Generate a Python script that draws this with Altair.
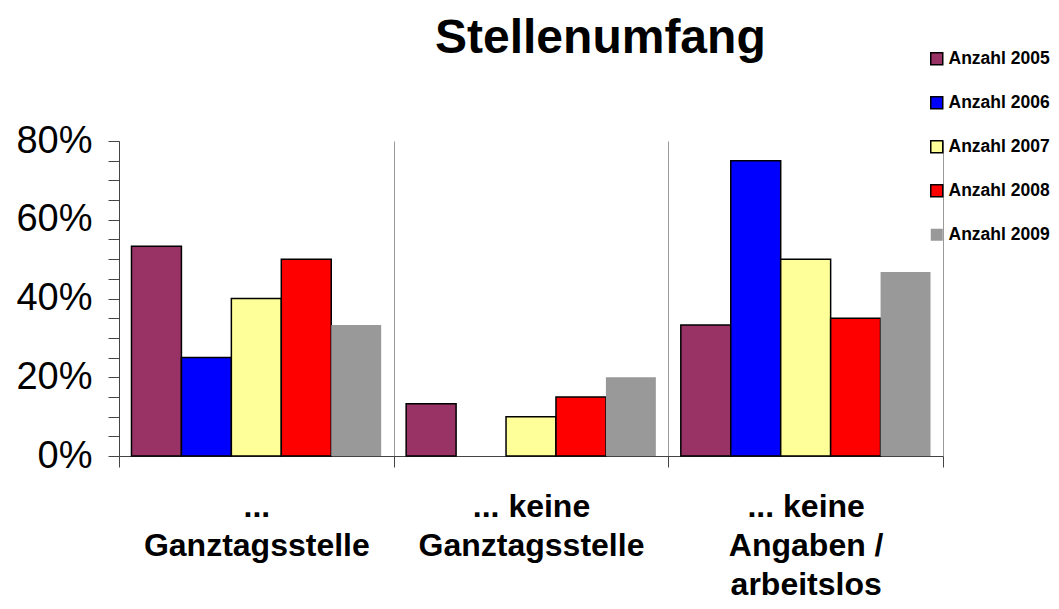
import altair as alt
import pandas as pd

title_text = "Stellenumfang"
categories = ["...\nGanztagsstelle", "... keine\nGanztagsstelle", "... keine\nAngaben /\narbeitslos"]
series = ["Anzahl 2005", "Anzahl 2006", "Anzahl 2007", "Anzahl 2008", "Anzahl 2009"]
v2005 = [0.533, 0.133, 0.333]
v2006 = [0.25, 0.0, 0.75]
v2007 = [0.40, 0.10, 0.50]
v2008 = [0.50, 0.15, 0.35]
v2009 = [0.333, 0.20, 0.467]
colors = ["#993366", "#0000FF", "#FFFF99", "#FF0000", "#999999"]
strokes = ["black", "black", "black", "black", "transparent"]
y_ticks = [0.0, 0.05, 0.10, 0.15, 0.20, 0.25, 0.30, 0.35, 0.40, 0.45, 0.50, 0.55, 0.60, 0.65, 0.70, 0.75, 0.80]

rows = []
for s, vals in zip(series, [v2005, v2006, v2007, v2008, v2009]):
    for c, v in zip(categories, vals):
        rows.append({"Kategorie": c, "Serie": s, "Anteil": v})
df = pd.DataFrame(rows)

FONT = "Liberation Sans"

legend = alt.Legend(
    title=None, orient="none", legendX=809, legendY=-91,
    symbolType="square", symbolSize=144, symbolStrokeWidth=1.5,
    labelFont=FONT, labelFontSize=17.5, labelFontWeight="bold", labelColor="black",
    rowPadding=25, labelOffset=3, labelLimit=0,
)

bars = alt.Chart(df).transform_filter("datum.Anteil > 0").mark_bar(strokeWidth=1.5).encode(
    x=alt.X("Kategorie:N", sort=categories,
            scale=alt.Scale(paddingInner=0, paddingOuter=0),
            axis=alt.Axis(title=None, labelAngle=0, tickBand="extent", grid=True,
                          gridColor="#9a9a9a", gridWidth=1, tickSize=11,
                          tickColor="#444", domainColor="#444",
                          labelExpr="split(datum.label, '\\n')",
                          labelFont=FONT, labelFontSize=32, labelFontWeight="bold",
                          labelLineHeight=39, labelPadding=24, labelColor="black",
                          labelLimit=0)),
    xOffset=alt.XOffset("Serie:N", sort=series,
                        scale=alt.Scale(paddingInner=0, paddingOuter=0.25)),
    y=alt.Y("Anteil:Q", scale=alt.Scale(domain=[0, 0.8], nice=False),
            axis=alt.Axis(title=None, values=y_ticks, grid=False,
                          labelExpr="round(datum.value*100) % 20 == 0 ? format(datum.value, '.0%') : ''",
                          labelOverlap=False, labelBound=False, labelFlush=False,
                          tickSize=11, tickColor="#444", domainColor="#444",
                          labelFont=FONT, labelFontSize=38, labelColor="black",
                          labelPadding=16)),
    color=alt.Color("Serie:N", sort=series, scale=alt.Scale(domain=series, range=colors), legend=legend),
    stroke=alt.Stroke("Serie:N", sort=series, scale=alt.Scale(domain=series, range=strokes), legend=legend),
)

title = alt.Chart(pd.DataFrame({"t": [title_text]})).mark_text(
    font=FONT, fontSize=48, fontWeight="bold", color="black",
    align="left", baseline="alphabetic",
).encode(text="t:N", x=alt.value(316), y=alt.value(-88))

chart = alt.layer(bars, title).properties(
    width=824, height=315,
    padding={"left": 111, "top": 133, "right": 108, "bottom": 145},
    autosize=alt.AutoSizeParams(type="none"),
    background="white",
).configure_view(stroke=None)

chart.save("out.html", embed_options={"renderer": "svg", "actions": False})
